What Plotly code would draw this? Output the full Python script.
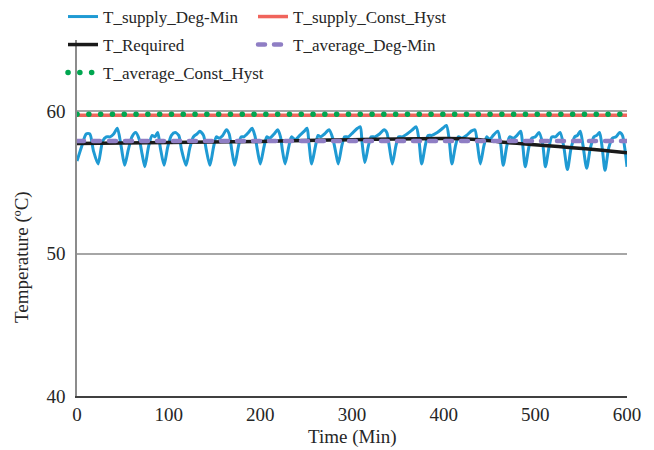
import plotly.graph_objects as go

# ---------------- data ----------------
t_supply_degmin = [0, 5, 10, 14, 18, 23,
                   28, 32, 36, 40, 44, 48, 52,
                   56, 60, 64, 68, 71, 74,
                   78, 82, 85, 88, 91, 95,
                   99, 103, 107, 111, 114, 119,
                   123, 127, 131, 134, 138, 141, 145,
                   149, 152, 155, 159, 163, 166, 169, 172,
                   176, 179, 182, 187, 191, 194, 197, 200,
                   204, 207, 210, 215, 219, 222, 224, 227,
                   231, 234, 238, 243, 248, 251, 253, 256,
                   260, 263, 266, 270, 275, 279, 282, 285,
                   289, 292, 296, 301, 306, 309, 311, 314,
                   318, 321, 325, 330, 335, 338, 341, 344,
                   348, 351, 355, 360, 366, 370, 373, 376,
                   380, 383, 387, 393, 399, 403, 406, 409,
                   413, 416, 420, 425, 430, 434, 437, 440,
                   444, 447, 450, 454, 459, 462, 465,
                   469, 472, 476, 480, 484, 486, 489,
                   493, 496, 500, 504, 508, 511,
                   515, 518, 522, 527, 531, 535,
                   539, 543, 546, 549, 552, 556,
                   560, 564, 567, 570, 573, 576,
                   580, 584, 588, 592, 595, 598, 600]
v_supply_degmin = [56.5, 57.5, 58.4, 58.4, 57.2, 56.3,
                   57.9, 58.2, 58.2, 58.4, 58.8, 57.6, 56.2,
                   57.3, 58.2, 58.5, 58.0, 57.0, 56.1,
                   57.5, 58.3, 58.2, 58.5, 57.4, 56.2,
                   57.5, 58.3, 58.5, 58.3, 57.3, 56.2,
                   57.4, 58.2, 58.4, 58.6, 58.3, 57.3, 56.2,
                   57.5, 58.2, 58.1, 58.3, 58.7, 58.4, 57.2, 56.2,
                   57.5, 58.2, 58.2, 58.5, 58.8, 58.3, 57.2, 56.3,
                   57.5, 58.2, 58.1, 58.4, 58.7, 58.2, 57.3, 56.3,
                   57.5, 58.2, 58.0, 58.3, 58.6, 58.8, 57.8, 56.3,
                   57.5, 58.3, 58.2, 58.4, 58.7, 58.1, 57.2, 56.3,
                   57.6, 58.2, 58.2, 58.5, 58.8, 58.9, 57.8, 56.4,
                   57.6, 58.2, 58.2, 58.4, 58.7, 58.5, 57.4, 56.3,
                   57.6, 58.2, 58.2, 58.4, 58.7, 58.9, 58.0, 56.3,
                   57.6, 58.3, 58.3, 58.5, 58.8, 59.0, 58.0, 56.3,
                   57.6, 58.2, 58.1, 58.3, 58.6, 58.7, 57.6, 56.3,
                   57.6, 58.2, 58.0, 58.3, 58.6, 57.8, 56.2,
                   57.6, 58.2, 58.1, 58.3, 58.6, 57.8, 56.1,
                   57.5, 58.1, 58.2, 58.5, 57.7, 56.1,
                   57.5, 58.2, 58.2, 58.5, 57.5, 55.9,
                   57.4, 58.2, 58.3, 58.6, 57.6, 56.0,
                   57.4, 58.2, 58.3, 58.5, 57.4, 55.85,
                   57.4, 58.1, 58.2, 58.5, 58.3, 57.2, 56.1]

t_supply_consthyst = [0, 600]
v_supply_consthyst = [59.72, 59.72]

t_required = [0, 100, 200, 250, 300, 350, 400, 420, 440, 460, 480, 510, 540, 570, 600]
v_required = [57.73, 57.8, 57.88, 57.95, 58.0, 58.05, 58.08, 58.07, 58.0, 57.85, 57.74, 57.6, 57.44, 57.27, 57.09]

t_avg_degmin = [0, 600]
v_avg_degmin = [57.9, 57.9]

t_avg_consthyst = [0, 600]
v_avg_consthyst = [59.78, 59.78]

x_ticks = [0, 100, 200, 300, 400, 500, 600]
y_ticks = [40, 50, 60]

FONT = "Liberation Serif, Times New Roman, serif"

fig = go.Figure()
fig.add_trace(go.Scatter(x=t_supply_degmin, y=v_supply_degmin, mode="lines",
                         name="T_supply_Deg-Min", showlegend=True,
                         line=dict(color="#1f9ad3", width=3, shape="spline", smoothing=0.7),
                         legend="legend"))
fig.add_trace(go.Scatter(x=t_supply_consthyst, y=v_supply_consthyst, mode="lines",
                         name="T_supply_Const_Hyst",
                         line=dict(color="#f0645c", width=3.5),
                         legend="legend2"))
fig.add_trace(go.Scatter(x=t_required, y=v_required, mode="lines",
                         name="T_Required",
                         line=dict(color="#1a1a1a", width=3.5, shape="spline", smoothing=0.8),
                         legend="legend3"))
fig.add_trace(go.Scatter(x=t_avg_degmin, y=v_avg_degmin, mode="lines",
                         name="T_average_Deg-Min",
                         line=dict(color="#8f7ec4", width=4.5, dash="7px,9px"),
                         legend="legend4"))
fig.add_trace(go.Scatter(x=t_avg_consthyst, y=v_avg_consthyst, mode="lines",
                         name="T_average_Const_Hyst",
                         line=dict(color="#00a650", width=5.5, dash="0.1px,11.7px"),
                         legend="legend5"))


def leg(xpx, ypx):
    return dict(orientation="h", xref="container", yref="container",
                x=xpx / 654, y=1 - ypx / 450,
                xanchor="left", yanchor="middle", visible=True,
                font=dict(family=FONT, size=17, color="#262626"),
                bgcolor="rgba(0,0,0,0)", borderwidth=0, traceorder="normal")


fig.update_layout(
    width=654, height=450,
    showlegend=True,
    paper_bgcolor="white", plot_bgcolor="white",
    margin=dict(l=77, r=27, t=40, b=54, autoexpand=False),
    font=dict(family=FONT, size=19, color="#262626"),
    legend=leg(63, 17),
    legend2=leg(253, 17),
    legend3=leg(63, 45),
    legend4=leg(253, 45),
    legend5=leg(63, 73),
    xaxis=dict(range=[0, 600], tickvals=x_ticks, ticktext=[str(v) for v in x_ticks],
               showgrid=False, zeroline=False, showline=True,
               linecolor="#404040", linewidth=1.5, ticks="",
               tickfont=dict(family=FONT, size=19, color="#262626")),
    yaxis=dict(range=[40, 65], tickvals=y_ticks, ticktext=[str(v) for v in y_ticks],
               showgrid=True, gridcolor="#a6a6a6", gridwidth=1.5, zeroline=False,
               showline=True, linecolor="#8c8c8c", linewidth=1.5, ticks="",
               ticklabelstandoff=6,
               tickfont=dict(family=FONT, size=19, color="#262626")),
    annotations=[
        dict(text="Time (Min)", xref="paper", yref="paper", x=0.5, y=-(437 - 396) / 356,
             xanchor="center", yanchor="middle", showarrow=False,
             font=dict(family=FONT, size=19, color="#262626")),
        dict(text="Temperature (ºC)", xref="paper", yref="paper", x=(22 - 77) / 550,
             y=(396 - 257) / 356, xanchor="center", yanchor="middle", textangle=-90,
             showarrow=False, font=dict(family=FONT, size=19, color="#262626")),
    ],
)

post = """
document.documentElement.style.margin = '0';
document.body.style.margin = '0';
document.body.style.padding = '0';
function fixCaps(){
  var gd = document.getElementById('{plot_id}');
  if(!gd) return;
  gd.querySelectorAll('path').forEach(function(p){
    var d = p.style.strokeDasharray;
    if(d && d !== 'none' && d !== ''){ p.style.strokeLinecap = 'round'; }
  });
}
fixCaps();
setTimeout(fixCaps, 50);
"""

fig.write_html("out.html", post_script=post, config={"displayModeBar": False})
